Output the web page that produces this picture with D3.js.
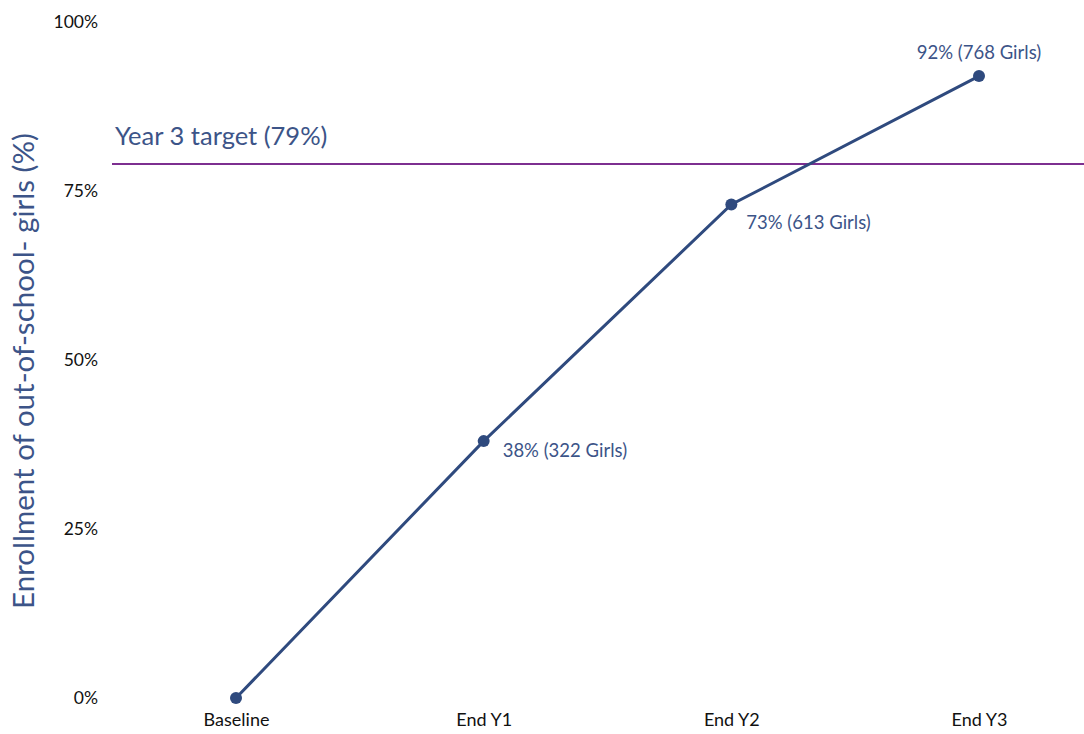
<!DOCTYPE html>
<html><head><meta charset="utf-8">
<script src="https://cdn.jsdelivr.net/npm/d3@7"></script>
<style>body{margin:0;background:#fff;} text{font-family:Lato,"Open Sans",sans-serif;}</style>
</head><body>
<svg id="c" width="1084" height="734"></svg>
<script>
const categories = ["Baseline","End Y1","End Y2","End Y3"];
const values = [0, 38, 73, 92];
const labels = [null, "38% (322 Girls)", "73% (613 Girls)", "92% (768 Girls)"];
const yTicks = [0,25,50,75,100];
const targetValue = 79;
const targetLabel = "Year 3 target (79%)";
const yTitle = "Enrollment of out-of-school- girls (%)";

const svg = d3.select("#c");
const x = d3.scalePoint().domain(categories).range([236, 979]);
const y = d3.scaleLinear().domain([0,100]).range([698, 22]);
const lineColor = "#2f4a7e", textColor = "#3c5488";

const yAxis = svg.append("g").attr("transform","translate(98,0)")
  .call(d3.axisLeft(y).tickValues(yTicks).tickFormat(d=>d+"%").tickSize(0).tickPadding(0));
yAxis.select(".domain").remove();
yAxis.selectAll("text").attr("font-size",17.5).attr("fill","#111").attr("font-family","Lato, sans-serif");

const xAxis = svg.append("g").attr("transform","translate(0,711)")
  .call(d3.axisBottom(x).tickSize(0).tickPadding(0));
xAxis.select(".domain").remove();
xAxis.selectAll("text").attr("font-size",18).attr("fill","#111").attr("dy","0.85em").attr("font-family","Lato, sans-serif");

svg.append("text").attr("transform","translate(34,371) rotate(-90)")
  .attr("text-anchor","middle").attr("font-size",29.5).attr("fill",textColor).text(yTitle);

svg.append("line").attr("x1",112).attr("x2",1084)
  .attr("y1",y(targetValue)).attr("y2",y(targetValue))
  .attr("stroke","#7d2f90").attr("stroke-width",2);
svg.append("text").attr("x",115).attr("y",y(targetValue)-19)
  .attr("font-size",25.5).attr("fill",textColor).text(targetLabel);

const data = categories.map((c,i)=>({c, v:values[i], l:labels[i]}));
svg.append("path").datum(data)
  .attr("d", d3.line().x(d=>x(d.c)).y(d=>y(d.v)))
  .attr("fill","none").attr("stroke",lineColor).attr("stroke-width",3);
svg.selectAll("circle.pt").data(data).join("circle")
  .attr("cx",d=>x(d.c)).attr("cy",d=>y(d.v)).attr("r",6).attr("fill",lineColor);

svg.selectAll("text.lbl").data(data.filter(d=>d.l)).join("text")
  .attr("class","lbl")
  .attr("x",(d,i)=> i===2 ? x(d.c) : x(d.c)+(i===1?15:19))
  .attr("y",(d,i)=> i===2 ? y(d.v)-17 : y(d.v)+(i===1?24:16))
  .attr("text-anchor",(d,i)=> i===2 ? "middle" : "start")
  .attr("font-size",18.5).attr("fill",textColor).text(d=>d.l);
</script>
</body></html>
